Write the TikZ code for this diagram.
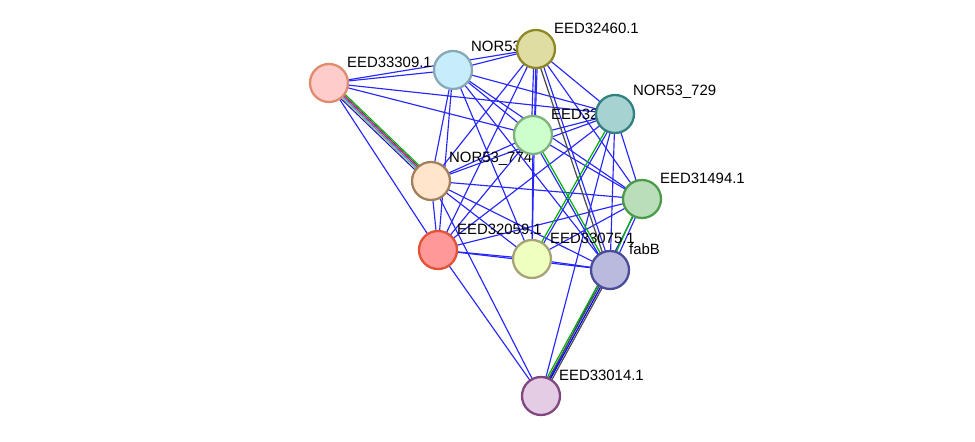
\documentclass[tikz,border=0pt]{standalone}
\usepackage{fontspec}
\setmainfont{Liberation Sans}
\begin{document}
\begin{tikzpicture}[x=0.02cm,y=-0.02cm,
  prot/.style={circle, minimum size=0.76cm, line width=1.3pt},
  lbl/.style={font=\fontsize{8.5}{9}\selectfont, anchor=south west, inner sep=1pt},
  e/.style={blue!85!white, line width=0.65pt}]
  \useasboundingbox (0,0) rectangle (975,442);

  % positions
  \coordinate (p1) at (329,83);
  \coordinate (p2) at (453,70);
  \coordinate (p3) at (536,49);
  \coordinate (p4) at (615,114);
  \coordinate (p5) at (533,135);
  \coordinate (p6) at (431,181);
  \coordinate (p7) at (642,199);
  \coordinate (p8) at (438,250);
  \coordinate (p9) at (532,259);
  \coordinate (p10) at (610,270);
  \coordinate (p11) at (541,396);

  % plain edges
  \foreach \a/\b in {p1/p2,p1/p3,p1/p5,p1/p4,p1/p8,p8/p11,p6/p11,
      p2/p3,p2/p4,p2/p5,p2/p6,p2/p8,p2/p9,p2/p10,p2/p7,
      p3/p6,p3/p8,p3/p4,p3/p7,p3/p9,
      p4/p5,p4/p6,p4/p7,p4/p10,p4/p8,p4/p11,
      p5/p6,p5/p8,p5/p9,p5/p7,
      p6/p8,p6/p9,p6/p10,p6/p7,
      p7/p8,p7/p9,p7/p11,p8/p9,p8/p10,p9/p10}
    \draw[e] (\a) -- (\b);

  % multi evidence edges
  \draw[e] ([xshift=-1pt]p3) -- ([xshift=-1pt]p5);
  \draw[e] ([xshift=1pt]p3) -- ([xshift=1pt]p5);
  \draw[black!70, line width=0.7pt] ([xshift=-1pt]p3) -- ([xshift=-1pt]p10);
  \draw[e] ([xshift=1pt]p3) -- ([xshift=1pt]p10);
  \draw[green!70!black, line width=0.7pt] (p4) -- (p9);
  \draw[e] ([xshift=1.5pt]p4) -- ([xshift=1.5pt]p9);
  \draw[green!70!black, line width=0.7pt] (p5) -- (p10);
  \draw[e] ([xshift=-1.5pt]p5) -- ([xshift=-1.5pt]p10);
  \draw[green!70!black, line width=0.7pt] ([xshift=-1pt]p7) -- ([xshift=-1pt]p10);
  \draw[e] ([xshift=1pt]p7) -- ([xshift=1pt]p10);
  \foreach \s/\c in {-2.2/green!70!black,-1.1/black!70,0/blue,1.1/black!70}
    \draw[\c, line width=0.7pt] ([xshift=\s pt]p10) -- ([xshift=\s pt]p11);
  \foreach \s/\c in {-2.5/blue,-1.5/yellow!70!black,-0.5/cyan,0.5/magenta,1.5/black!70,2.5/green!70!black}
    \draw[\c, line width=0.55pt] ([xshift=\s pt]p1) -- ([xshift=\s pt]p6);

  % labels
  \node[lbl] at (345,70) {EED33309.1};
  \node[lbl] at (469,57) {NOR53\_248};
  \node[lbl] at (552,36) {EED32460.1};
  \node[lbl] at (631,101) {NOR53\_729};
  \node[lbl] at (549,122) {EED327};
  \node[lbl] at (447,168) {NOR53\_774};
  \node[lbl] at (658,186) {EED31494.1};
  \node[lbl] at (455,237) {EED32059.1};
  \node[lbl] at (548,246) {EED33075.1};
  \node[lbl] at (627,257) {fabB};
  \node[lbl] at (557,383) {EED33014.1};

  % proteins
  \node[prot, draw=red!30!brown!70, fill=red!20!white] (n1) at (p1) {};
  \node[prot, draw=cyan!30!gray!90, fill=cyan!22!white] (n2) at (p2) {};
  \node[prot, draw=olive!75!gray, fill=yellow!50!gray!55!white] (n3) at (p3) {};
  \node[prot, draw=teal!60!gray, fill=teal!35!white] (n4) at (p4) {};
  \node[prot, draw=green!25!gray!80, fill=green!20!white] (n5) at (p5) {};
  \node[prot, draw=brown!55!gray, fill=orange!20!white] (n6) at (p6) {};
  \node[prot, draw=green!35!gray!90!black, fill=green!35!gray!40!white] (n7) at (p7) {};
  \node[prot, draw=red!50!brown!90, fill=red!40!white] (n8) at (p8) {};
  \node[prot, draw=olive!35!gray!80, fill=lime!25!white] (n9) at (p9) {};
  \node[prot, draw=blue!35!gray!90!black, fill=blue!35!gray!40!white] (n10) at (p10) {};
  \node[prot, draw=violet!45!gray, fill=violet!20!white] (n11) at (p11) {};
\end{tikzpicture}
\end{document}
